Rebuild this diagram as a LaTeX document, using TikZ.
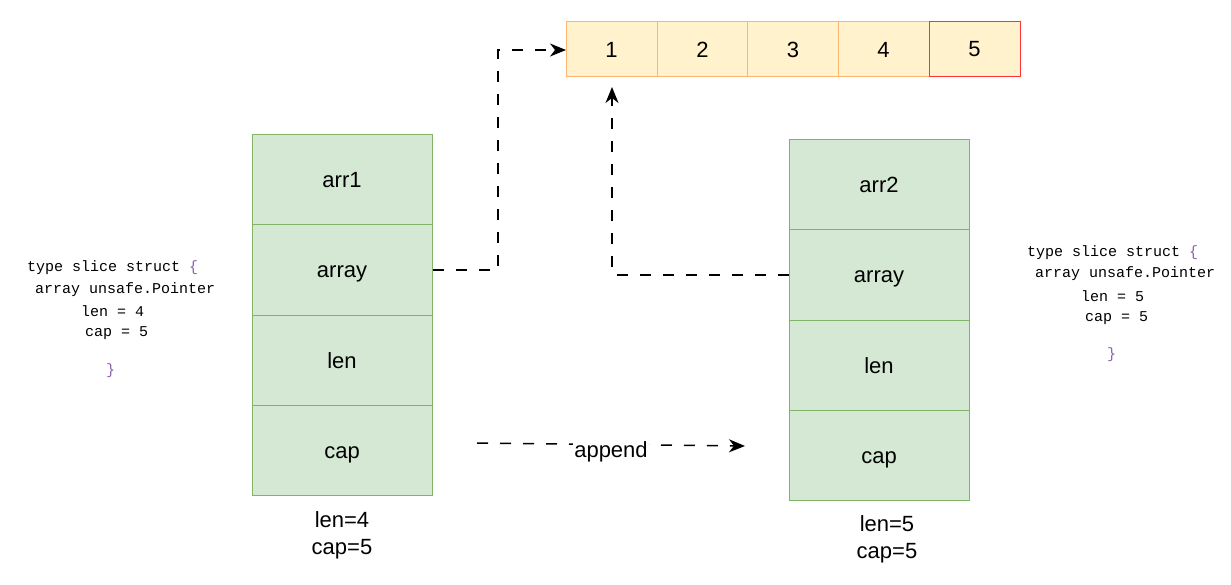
\documentclass[tikz,border=0pt]{standalone}
\usepackage{fontspec}
\setmainfont{Liberation Sans}
\newfontfamily\codefont{Liberation Mono}
\usetikzlibrary{arrows.meta}
\definecolor{gfill}{HTML}{D5E8D4}
\definecolor{gline}{HTML}{82B366}
\definecolor{ofill}{HTML}{FFF2CC}
\definecolor{oline}{HTML}{FFB570}
\definecolor{rline}{HTML}{FF3333}
\definecolor{brace}{HTML}{8A5FB0}
\tikzset{
  cell/.style={draw=gline, fill=gfill, line width=1pt, minimum width=180pt, minimum height=90pt, inner sep=0pt, text height=16pt, text depth=0pt, font=\fontsize{22}{26}\selectfont},
  acell/.style={draw=oline, fill=ofill, line width=1pt, minimum width=91pt, minimum height=55pt, inner sep=0pt, font=\fontsize{22}{26}\selectfont},
  conn/.style={line width=1.5pt, dash pattern=on 11pt off 12pt, -{Stealth[length=16pt,width=13pt,inset=5pt]}},
  code/.style={anchor=west, inner sep=0pt, font=\codefont\fontsize{15}{18}\selectfont},
  lbl/.style={align=center, inner sep=0pt, font=\fontsize{22}{27}\selectfont},
}
\begin{document}
\begin{tikzpicture}[x=1pt,y=-1pt]
\useasboundingbox (0,0) rectangle (1231,585);
% top array
\node[acell] (a1) at (611.5,49.5) {1};
\node[acell] (a2) at (702.5,49.5) {2};
\node[acell] (a3) at (793,49.5) {3};
\node[acell] (a4) at (883.5,49.5) {4};
\node[acell, draw=rline] (a5) at (974.5,49.5) {5};
% left stack
\node[cell] (l1) at (342,180) {arr1};
\node[cell] (l2) at (342,270) {array};
\node[cell] (l3) at (342,360) {len};
\node[cell] (l4) at (342,450) {cap};
% right stack
\node[cell] (r1) at (879,185) {arr2};
\node[cell] (r2) at (879,275) {array};
\node[cell] (r3) at (879,365) {len};
\node[cell] (r4) at (879,455) {cap};
% labels
\node[lbl] (ll) at (342,535) {len=4\\cap=5};
\node[lbl] (rl) at (887,539) {len=5\\cap=5};
% connectors
\coordinate (tipA) at (566,50);
\draw[conn] (l2.east) -- (498,270) -- (498,50) -- (tipA);
\coordinate (tipB) at (612,87);
\draw[conn] (r2.west) -- (612,275) -- (tipB);
\coordinate (apS) at (477,443);
\coordinate (apE) at (745,446);
\draw[conn] (apS) -- node[fill=white, inner sep=1pt, yshift=-5pt, text height=16pt, text depth=0pt, font=\fontsize{22}{26}\selectfont] (ap) {append} (apE);
% code left
\node[code] (c1) at (27,268) {type slice struct \textcolor{brace}{\{}};
\node[code] (c2) at (35,290) {array unsafe.Pointer};
\node[code] (c3) at (81,311) {len = 4};
\node[code] (c4) at (85,333) {cap = 5};
\node[code] (c5) at (106,371) {\textcolor{brace}{\}}};
% code right
\node[code] (d1) at (1027,253) {type slice struct \textcolor{brace}{\{}};
\node[code] (d2) at (1035,274) {array unsafe.Pointer};
\node[code] (d3) at (1081,296) {len = 5};
\node[code] (d4) at (1085,318) {cap = 5};
\node[code] (d5) at (1107,355) {\textcolor{brace}{\}}};
\end{tikzpicture}
\end{document}
